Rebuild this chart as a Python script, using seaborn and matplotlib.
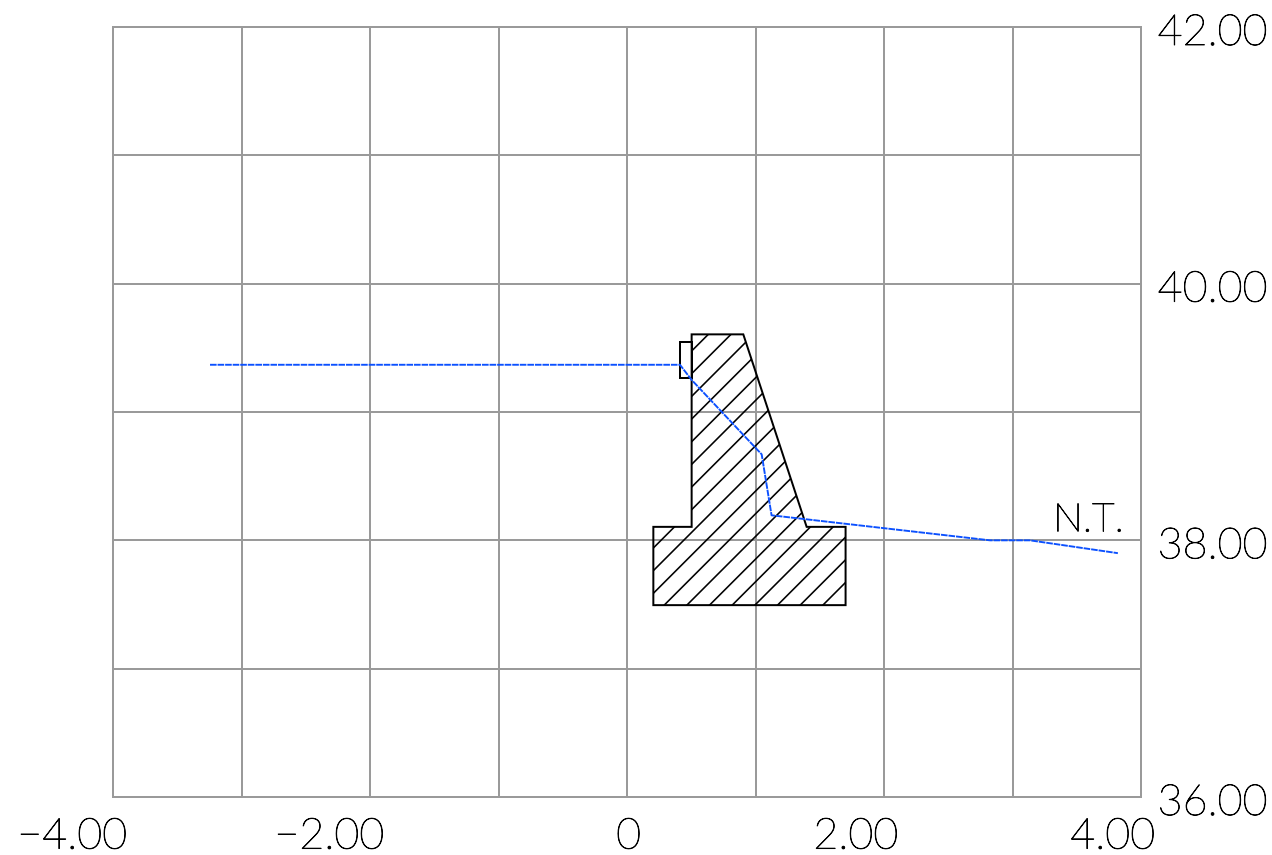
import matplotlib
matplotlib.use("Agg")
import matplotlib.pyplot as plt
from matplotlib.patches import Polygon, Rectangle
from matplotlib.transforms import ScaledTranslation
import matplotlib.patheffects as pe
import seaborn as sns
import pandas as pd

wall_x = [0.503, 0.905, 1.398, 1.701, 1.701, 0.205, 0.205, 0.503]
wall_y = [39.605, 39.605, 38.105, 38.105, 37.495, 37.495, 38.105, 38.105]
curb_x = [0.412, 0.503]
curb_y = [39.265, 39.545]
ground_x = [-3.245, 0.412, 0.503, 1.048, 1.125, 2.825, 3.136, 3.82]
ground_y = [39.368, 39.368, 39.25, 38.67, 38.195, 38.0, 38.0, 37.90]
x_labels = ["\u22124.00", "\u22122.00", "0", "2.00", "4.00"]
y_labels = ["36.00", "38.00", "40.00", "42.00"]
x_major = [-4, -2, 0, 2, 4]
y_major = [36, 38, 40, 42]
x_minor = [-3, -1, 1, 3]
y_minor = [37, 39, 41]

sns.set_theme(style="white")
plt.rcParams["font.family"] = ["Lato", "DejaVu Sans"]
plt.rcParams["hatch.linewidth"] = 0.85

DPI = 136
fig = plt.figure(figsize=(1272 / DPI, 855 / DPI), dpi=DPI)
ax = fig.add_axes([113 / 1272, 1 - 797 / 855, 1028 / 1272, 770 / 855])

GRAY = "#9a9a9a"
ax.set_xlim(-4, 4)
ax.set_ylim(36, 42)
ax.set_xticks(x_major, x_labels)
ax.set_yticks(y_major, y_labels)
ax.set_xticks(x_minor, minor=True)
ax.set_yticks(y_minor, minor=True)
ax.grid(True, which="both", color=GRAY, lw=1.05)
ax.set_axisbelow(True)
ax.tick_params(which="both", length=0)
ax.yaxis.tick_right()
for s in ax.spines.values():
    s.set_color(GRAY)
    s.set_linewidth(1.05)

ax.add_patch(Polygon(list(zip(wall_x, wall_y)), closed=True, facecolor="none",
                     edgecolor="black", hatch="//", lw=1.05, zorder=3))
ax.add_patch(Rectangle((curb_x[0], curb_y[0]), curb_x[1] - curb_x[0], curb_y[1] - curb_y[0],
                       facecolor="none", edgecolor="black", lw=1.05, zorder=3))

ground = pd.DataFrame({"x": ground_x, "y": ground_y})
sns.lineplot(data=ground, x="x", y="y", sort=False, estimator=None, ax=ax,
             color="#0b50ff", lw=1.0, linestyle=(0, (3.5, 0.5)), zorder=4)
ax.set_xlabel("")
ax.set_ylabel("")

stroke = [pe.withStroke(linewidth=0.45, foreground="black")]
ax.text(3.865, 38.07, "N.T.", ha="right", va="baseline", fontsize=21,
        fontweight="light", color="black", path_effects=stroke)

dx = ScaledTranslation(14 / DPI, -14 / DPI, fig.dpi_scale_trans)
for lab in ax.get_xticklabels():
    lab.set_ha("right")
    lab.set_fontsize(22.8)
    lab.set_fontweight("light")
    lab.set_color("black")
    lab.set_path_effects(stroke)
    lab.set_transform(lab.get_transform() + dx)
dy = ScaledTranslation(10 / DPI, -2.5 / DPI, fig.dpi_scale_trans)
for lab in ax.get_yticklabels():
    lab.set_fontsize(22.8)
    lab.set_fontweight("light")
    lab.set_color("black")
    lab.set_path_effects(stroke)
    lab.set_transform(lab.get_transform() + dy)

fig.savefig("out.png", dpi=DPI, facecolor="white")
